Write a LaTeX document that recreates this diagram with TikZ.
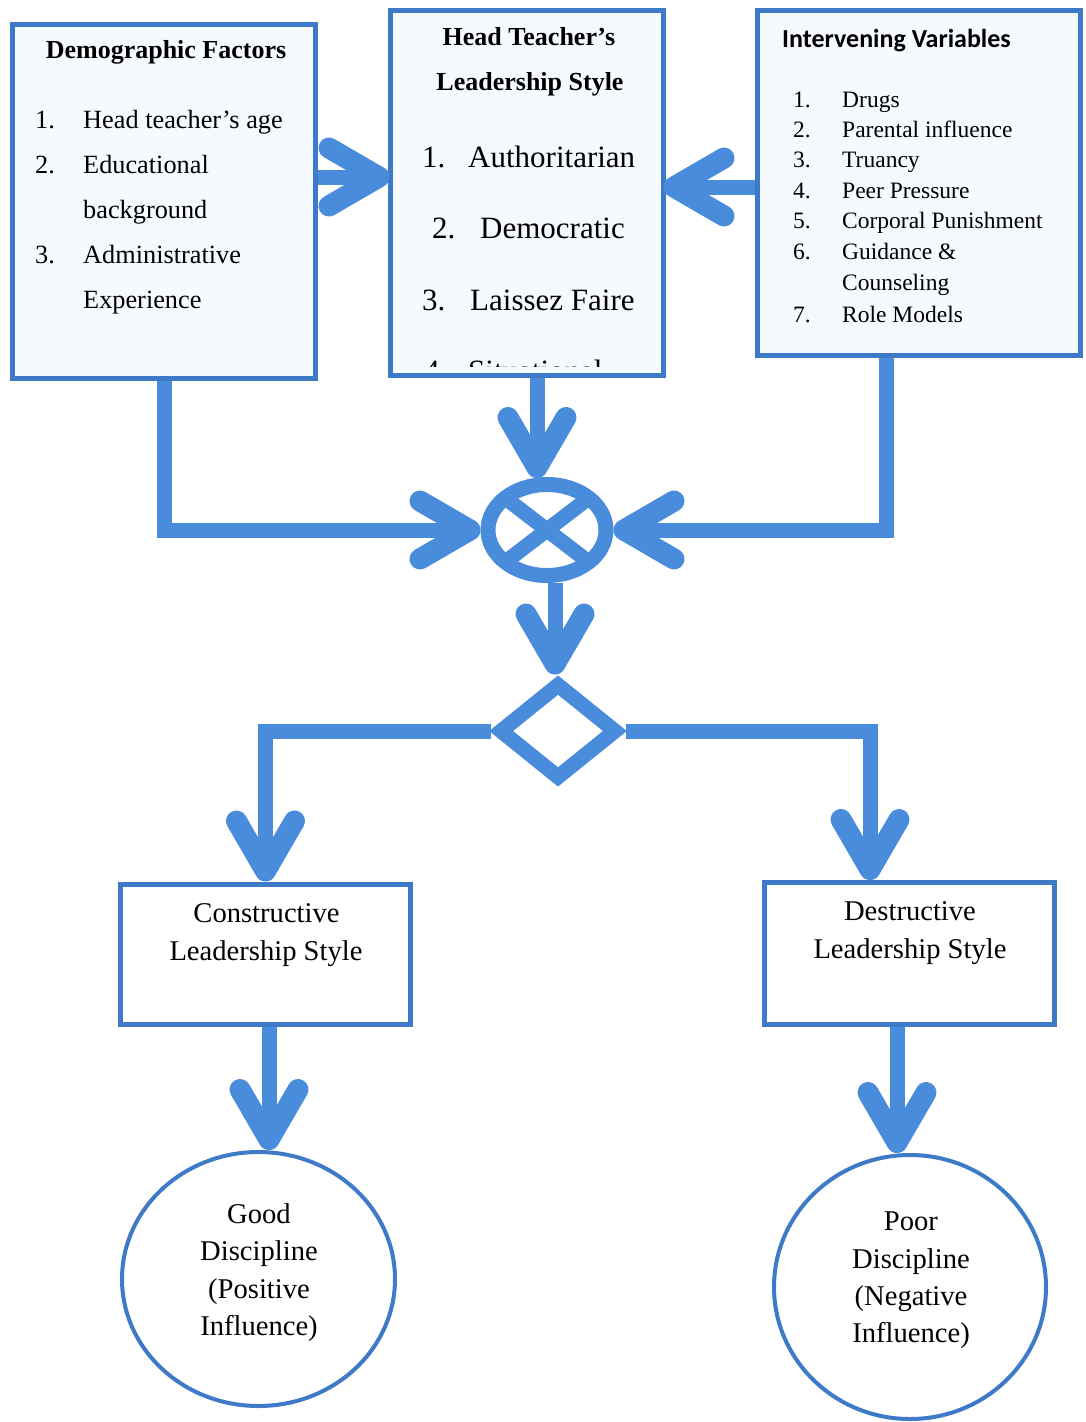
\documentclass[tikz,border=0pt]{standalone}
\usepackage{fontspec}
\setmainfont{Liberation Serif}
\newfontfamily\calib{Carlito}
\usetikzlibrary{arrows.meta,shapes.geometric,calc}
\definecolor{boxblue}{RGB}{62,122,200}
\definecolor{arrowblue}{RGB}{74,140,220}
\definecolor{boxfill}{RGB}{246,250,254}
\tikzset{
  boxnode/.style={draw=boxblue, line width=5pt, inner sep=0pt},
  topbox/.style={boxnode, fill=boxfill},
  ringnode/.style={draw=boxblue, line width=4pt, ellipse, inner sep=0pt},
  flow/.style={draw=arrowblue, line width=15pt},
  bigarrow/.style={flow, -{Straight Barb[length=50pt,width=58pt,line width=21pt,round]}},
  txt/.style={inner sep=0pt, anchor=base west},
  ctxt/.style={inner sep=0pt, anchor=base},
  fa/.style={font=\fontsize{26.3}{30}\selectfont},
  fb/.style={font=\bfseries\fontsize{26}{30}\selectfont},
  fm/.style={font=\fontsize{31}{36}\selectfont},
  fr/.style={font=\fontsize{23.5}{28}\selectfont},
  fl/.style={font=\fontsize{28.6}{34}\selectfont},
}
\begin{document}
\begin{tikzpicture}[x=1pt,y=-1pt]
\useasboundingbox[fill=white] (0,0) rectangle (1085,1422);

% ---- boxes ----
\node[topbox, minimum width=303pt, minimum height=354.5pt] (demo) at (164,201.25) {};
\node[topbox, minimum width=273pt, minimum height=365pt] (mid) at (526.5,193) {};
\node[topbox, minimum width=323pt, minimum height=345pt] (iv) at (919,183) {};
\node[boxnode, fill=white, minimum width=290pt, minimum height=140.5pt] (con) at (265.5,954.25) {};
\node[boxnode, fill=white, minimum width=289.5pt, minimum height=141.5pt] (des) at (909.25,953.25) {};
\node[ringnode, minimum width=273pt, minimum height=254pt] (good) at (258.5,1279) {};
\node[ringnode, minimum width=272pt, minimum height=264pt] (poor) at (910,1287) {};

% ---- junctions ----
\node[draw=arrowblue, line width=15pt, ellipse, inner sep=0pt, minimum width=118pt, minimum height=91pt] (x) at (547,530) {};
\draw[flow] ($(x.center)+(-43,-33)$) -- ($(x.center)+(43,33)$);
\draw[flow] ($(x.center)+(43,-33)$) -- ($(x.center)+(-43,33)$);
\node[draw=arrowblue, line width=15pt, diamond, inner sep=0pt, minimum width=120pt, minimum height=98pt] (d) at (558,731) {};

% ---- helper columns ----
\coordinate (colA) at (537,0);
\coordinate (colB) at (886,0);
\coordinate (colC) at (555,0);
\coordinate (colD) at (870,0);
\coordinate (colE) at (269,0);
\coordinate (colF) at (897,0);
\coordinate (rowA) at (0,177);
\coordinate (rowB) at (0,187);

% ---- connectors ----
\draw[bigarrow] (demo.east |- rowA) -- ($(mid.west |- rowA)+(2,0)$);
\draw[bigarrow] (iv.west |- rowB) -- ($(mid.east |- rowB)+(-2,0)$);
\draw[bigarrow] (mid.south -| colA) -- ($(x.north -| colA)+(0,1)$);
\draw[bigarrow] (demo.south) |- (x.west);
\draw[bigarrow] (iv.south -| colB) |- (x.east);
\draw[bigarrow] (x.south -| colC) -- (d.north -| colC);
\draw[bigarrow] (d.west) -| (con.north);
\draw[bigarrow] (d.east) -| (des.north -| colD);
\draw[bigarrow] (con.south -| colE) -- (good.north -| colE);
\draw[bigarrow] (des.south -| colF) -- (poor.north -| colF);

% ---- demographic factors ----
\node[fb, ctxt] (t1) at (166,58) {Demographic Factors};
\node[fa, txt] (n11) at (35,128) {1.};
\node[fa, txt] (i11) at (83,128) {Head teacher’s age};
\node[fa, txt] (n12) at (35,173) {2.};
\node[fa, txt] (i12) at (83,173) {Educational};
\node[fa, txt] (i12b) at (83,218) {background};
\node[fa, txt] (n13) at (35,263) {3.};
\node[fa, txt] (i13) at (83,263) {Administrative};
\node[fa, txt] (i13b) at (83,308) {Experience};

% ---- leadership style ----
\node[fb, ctxt] (t2a) at (529,45) {Head Teacher’s};
\node[fb, ctxt] (t2b) at (530,90) {Leadership Style};
\node[fm, txt] (n21) at (422,167) {1.};
\node[fm, txt] (i21) at (468,167) {Authoritarian};
\node[fm, txt] (n22) at (432,238) {2.};
\node[fm, txt] (i22) at (480,238) {Democratic};
\node[fm, txt] (n23) at (422,310) {3.};
\node[fm, txt] (i23) at (470,310) {Laissez Faire};
\begin{scope}
\clip (393,13) rectangle (660.5,366.5);
\node[fm, txt] (n24) at (424,381) {4.};
\node[fm, txt] (i24) at (468,381) {Situational};
\end{scope}

% ---- intervening variables ----
\node[txt, font=\calib\bfseries\fontsize{26}{30}\selectfont] (t3) at (782,47) {Intervening Variables};
\node[fr, txt] (n31) at (793,107) {1.};
\node[fr, txt] (i31) at (842,107) {Drugs};
\node[fr, txt] (n32) at (793,137) {2.};
\node[fr, txt] (i32) at (842,137) {Parental influence};
\node[fr, txt] (n33) at (793,167) {3.};
\node[fr, txt] (i33) at (842,167) {Truancy};
\node[fr, txt] (n34) at (793,198) {4.};
\node[fr, txt] (i34) at (842,198) {Peer Pressure};
\node[fr, txt] (n35) at (793,228) {5.};
\node[fr, txt] (i35) at (842,228) {Corporal Punishment};
\node[fr, txt] (n36) at (793,259) {6.};
\node[fr, txt] (i36) at (842,259) {Guidance \&};
\node[fr, txt] (i36b) at (842,290) {Counseling};
\node[fr, txt] (n37) at (793,322) {7.};
\node[fr, txt] (i37) at (842,322) {Role Models};

% ---- outcome boxes ----
\node[fl, ctxt] (c1) at (266.5,922) {Constructive};
\node[fl, ctxt] (c2) at (266,960) {Leadership Style};
\node[fl, ctxt] (e1) at (910,920) {Destructive};
\node[fl, ctxt] (e2) at (910,958) {Leadership Style};

% ---- discipline circles ----
\node[fl, ctxt] (g1) at (259,1223) {Good};
\node[fl, ctxt] (g2) at (259,1260) {Discipline};
\node[fl, ctxt] (g3) at (259,1298) {(Positive};
\node[fl, ctxt] (g4) at (259,1335) {Influence)};
\node[fl, ctxt] (p1) at (911,1230) {Poor};
\node[fl, ctxt] (p2) at (911,1268) {Discipline};
\node[fl, ctxt] (p3) at (911,1305) {(Negative};
\node[fl, ctxt] (p4) at (911,1342) {Influence)};
\end{tikzpicture}
\end{document}
